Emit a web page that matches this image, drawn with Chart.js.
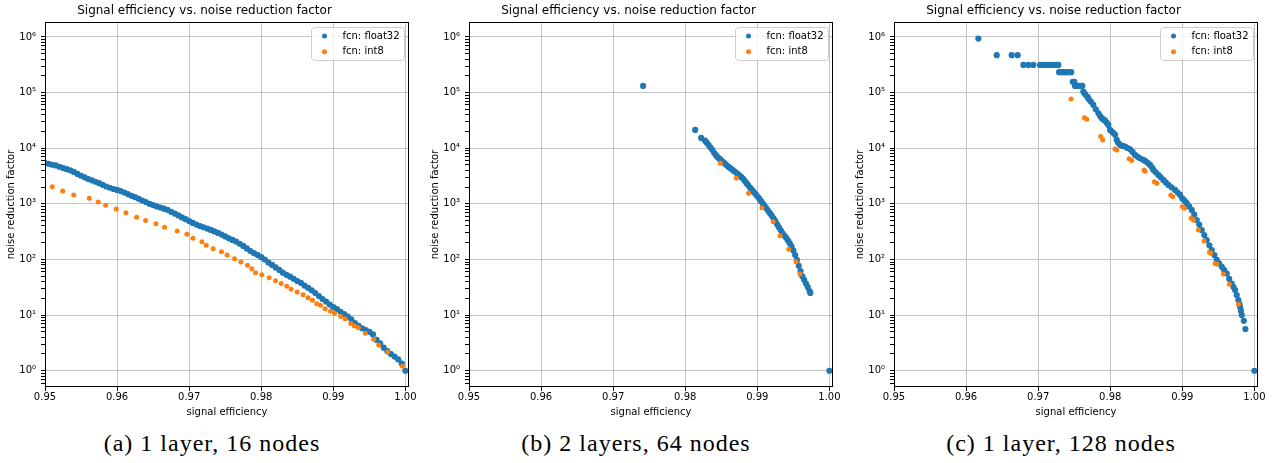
<!DOCTYPE html>
<html>
<head>
<meta charset="utf-8">
<script src="https://cdn.jsdelivr.net/npm/chart.js@4.4.1/dist/chart.umd.min.js"></script>
<style>
  body { margin: 0; background: #fff; width: 1280px; height: 463px; position: relative; overflow: hidden; }
  canvas { position: absolute; top: 0; }
  .cap { position: absolute; top: 431px; width: 424px; text-align: center; font-family: 'Liberation Serif', serif;
         font-size: 24px; line-height: 24px; letter-spacing: 1px; color: #000; }
</style>
</head>
<body>
<canvas id="c0" width="424" height="425" style="left:0px"></canvas>
<canvas id="c1" width="424" height="425" style="left:424px"></canvas>
<canvas id="c2" width="424" height="425" style="left:849px"></canvas>
<div class="cap" id="cap0" style="left:0px"></div>
<div class="cap" id="cap1" style="left:424px"></div>
<div class="cap" id="cap2" style="left:849px"></div>
<script>
// labels
var chartTitle = 'Signal efficiency vs. noise reduction factor';
var xTitle = 'signal efficiency';
var yTitle = 'noise reduction factor';
var seriesLabels = ['fcn: float32', 'fcn: int8'];
var captions = ['(a) 1 layer, 16 nodes', '(b) 2 layers, 64 nodes', '(c) 1 layer, 128 nodes'];
var xTicks = [0.95, 0.96, 0.97, 0.98, 0.99, 1.00];
var yMajor = [1, 10, 100, 1000, 10000, 100000, 1000000];
var yLabels = ['10\u2070', '10\u00b9', '10\u00b2', '10\u00b3', '10\u2074', '10\u2075', '10\u2076'];

// (a) 1 layer, 16 nodes  [signal efficiency, noise reduction factor]
var f32_a = [[0.9500,5400],[0.9505,5250],[0.9510,5050],[0.9515,4900],[0.9520,4650],[0.9525,4400],[0.9530,4200],[0.9535,4000],
  [0.9540,3750],[0.9545,3450],[0.9550,3200],[0.9555,3000],[0.9560,2800],[0.9565,2650],[0.9570,2500],[0.9575,2350],
  [0.9580,2200],[0.9585,2050],[0.9590,1950],[0.9595,1850],[0.9600,1780],[0.9605,1700],[0.9610,1600],[0.9615,1500],
  [0.9620,1400],[0.9625,1320],[0.9630,1230],[0.9635,1150],[0.9640,1080],[0.9645,1000],[0.9650,950],[0.9655,900],
  [0.9660,860],[0.9665,820],[0.9670,780],[0.9675,720],[0.9680,670],[0.9685,620],[0.9690,570],[0.9695,530],
  [0.9700,490],[0.9705,455],[0.9710,425],[0.9715,400],[0.9720,380],[0.9725,360],[0.9730,340],[0.9735,320],
  [0.9740,300],[0.9745,280],[0.9750,260],[0.9755,240],[0.9760,225],[0.9765,210],[0.9770,192],[0.9775,175],
  [0.9780,158],[0.9785,142],[0.9790,130],[0.9795,120],[0.9800,110],[0.9805,100],[0.9810,88],[0.9815,80],
  [0.9820,72],[0.9825,65],[0.9830,58],[0.9835,53],[0.9840,49],[0.9845,45],[0.9850,41],[0.9855,38],
  [0.9860,34],[0.9865,31],[0.9870,28],[0.9875,25],[0.9880,22],[0.9885,19.5],[0.9890,17.5],[0.9895,15.5],
  [0.9900,14],[0.9905,12.8],[0.9910,11.5],[0.9915,10.4],[0.9920,9.4],[0.9925,8.4],[0.9930,7.2],[0.9935,6.4],
  [0.9940,5.8],[0.9945,5.4],[0.9950,5.0],[0.9955,4.5],[0.9960,3.6],[0.9965,3.1],[0.9970,2.6],[0.9975,2.25],
  [0.9980,2.0],[0.9985,1.8],[0.9990,1.6],[0.9995,1.35],[1.0000,1.0]];
var i8_a = [[0.95101,2040],[0.95245,1706],[0.95398,1445],[0.95614,1260],[0.95739,1082],[0.95841,944],[0.95988,810],
  [0.96123,695],[0.96271,574],[0.96396,500],[0.96539,437],[0.96659,380],[0.96834,325],[0.96968,284],[0.97052,240],
  [0.97176,209],[0.97236,180],[0.97333,156],[0.97449,138],[0.97527,120],[0.97630,103],[0.97717,90],[0.97810,79],
  [0.97869,68],[0.97921,58],[0.98008,53],[0.98110,47],[0.98198,41.6],[0.98276,37],[0.98355,33],[0.98415,29.1],
  [0.98498,26],[0.98581,23.3],[0.98650,20.6],[0.98711,18.5],[0.98770,16],[0.98822,15],[0.98886,13],[0.98960,11.7],
  [0.99016,10.8],[0.99103,9.4],[0.99163,8.6],[0.99242,7.1],[0.99293,6.4],[0.99348,5.9],[0.99445,4.7],[0.99560,3.7],
  [0.99630,2.9],[0.99754,2.17],[0.99958,1.2]];

// (b) 2 layers, 64 nodes
var f32_b = [[0.97415,132000],[0.98138,21300],[0.98221,15300],
  [0.98275,13700],[0.98300,12500],[0.98325,11400],[0.98350,10300],[0.98375,9400],[0.98400,8300],[0.98425,7500],
  [0.98450,6900],[0.98475,6500],[0.98500,6050],[0.98525,5650],[0.98550,5300],[0.98575,4950],[0.98600,4650],
  [0.98625,4400],[0.98650,4150],[0.98675,3900],[0.98700,3700],[0.98725,3450],[0.98750,3250],[0.98775,3050],
  [0.98800,2850],[0.98825,2600],[0.98850,2350],[0.98875,2150],[0.98900,1950],[0.98925,1780],[0.98950,1640],
  [0.98975,1500],[0.99000,1370],[0.99025,1250],[0.99050,1130],[0.99075,1020],[0.99100,920],[0.99125,830],
  [0.99150,750],[0.99175,680],[0.99200,615],[0.99225,550],[0.99250,490],[0.99275,430],[0.99300,380],[0.99325,335],
  [0.99350,295],[0.99375,270],[0.99400,245],[0.99425,220],[0.99450,195],[0.99475,170],[0.99500,145],[0.99525,120],
  [0.99550,97],[0.99575,77],[0.99600,62],[0.99625,50],[0.99650,43],[0.99675,37],[0.99700,32],[0.99725,27],
  [0.99735,25],[1.0,1.0]];
var i8_b = [[0.98488,5370],[0.98709,2920],[0.98879,1550],[0.99064,855],[0.99220,478],[0.99316,268],[0.99436,152],
  [0.99537,91],[0.99592,55]];

// (c) 1 layer, 128 nodes
var f32_c = [[0.96170,935000],
  [0.96425,471000],[0.96633,471000],[0.96716,471000],
  [0.96795,315000],[0.96864,315000],[0.96933,315000],[0.97026,315000],[0.97072,315000],[0.97109,315000],
  [0.97151,315000],[0.97188,315000],[0.97220,315000],[0.97258,315000],[0.97280,315000],
  [0.97290,233000],[0.97318,233000],[0.97346,233000],[0.97374,233000],[0.97402,233000],[0.97430,233000],[0.97458,233000],
  [0.97480,156000],[0.97502,156000],
  [0.97512,132000],[0.97540,132000],[0.97567,132000],[0.97595,132000],[0.97613,132000],
  [0.97627,104000],[0.97651,93600],[0.97683,84700],[0.97700,77000],[0.97730,68900],[0.97766,60100],[0.97799,50200],
  [0.97836,42500],[0.97860,38000],[0.97882,34700],[0.97905,33000],[0.97928,31400],[0.97950,28800],[0.97974,26300],
  [0.97998,21300],[0.98021,19900],[0.98045,18800],[0.98067,17400],[0.98090,14100],[0.98110,12500],[0.98136,11500],
  [0.98170,11000],[0.98206,10700],[0.98240,10100],[0.98275,9600],[0.98310,8600],[0.98344,7580],[0.98380,7000],
  [0.98414,6610],[0.98450,6250],[0.98483,5910],[0.98520,5450],[0.98553,5010],[0.98580,4500],[0.98599,4070],
  [0.98630,3700],[0.98668,3310],[0.98700,3000],[0.98737,2690],[0.98770,2430],[0.98807,2190],[0.98850,1980],
  [0.98900,1780],[0.98935,1600],[0.98969,1445],[0.99000,1250],[0.99030,1140],[0.99062,1030],[0.99095,900],
  [0.99131,777],[0.99165,640],[0.99200,513],[0.99235,420],[0.99270,339],[0.99305,275],[0.99339,224],[0.99375,180],
  [0.99409,148],[0.99445,120],[0.99478,98],[0.99510,85],[0.99548,74],[0.99580,65],[0.99617,56],[0.99650,45],
  [0.99686,37],[0.99710,32],[0.99732,28.3],[0.99755,23],[0.99778,18.7],[0.99790,16],[0.99801,14.1],[0.99813,12],
  [0.99825,10],[0.99853,7.9],[0.99875,5.6],[1.0,1.0]];
var i8_c = [[0.97456,77000],[0.97641,35500],[0.97674,33300],[0.97868,16200],[0.97896,14100],[0.98067,9700],
  [0.98090,9330],[0.98261,6480],[0.98298,6050],[0.98469,4070],[0.98483,3850],[0.98612,2510],[0.98646,2350],
  [0.98840,1445],[0.98868,1340],[0.99001,890],[0.99029,830],[0.99122,550],[0.99154,510],[0.99223,340],
  [0.99302,214],[0.99376,135],[0.99395,129],[0.99454,85],[0.99478,83],[0.99570,55],[0.99653,36],[0.99778,15.6]];

// major + minor log ticks
var yTickVals = [];
yMajor.forEach(function (m) {
  for (var k = 1; k < 10; k++) {
    var v = k === 1 ? m : k * m;
    if (v <= 1.86e6) yTickVals.push(v);
  }
});
[0.6, 0.7, 0.8, 0.9].forEach(function (v) { yTickVals.unshift(v); });

var font = 'DejaVu Sans';

var frame = {
  id: 'frame',
  afterDatasetsDraw: function (chart) {
    var a = chart.chartArea, ctx = chart.ctx;
    ctx.save();
    ctx.strokeStyle = '#000';
    ctx.lineWidth = 1;
    ctx.strokeRect(Math.round(a.left) + 0.5, Math.round(a.top) + 0.5,
      Math.round(a.right - a.left) - 1, Math.round(a.bottom - a.top) - 1);
    ctx.restore();
  }
};

var boxLegend = {
  id: 'boxLegend',
  afterDraw: function (chart) {
    var a = chart.chartArea, ctx = chart.ctx;
    var w = 93, h = 33, x = Math.round(a.right - 5 - w), y = Math.round(a.top + 5);
    ctx.save();
    ctx.beginPath();
    ctx.roundRect(x + 0.5, y + 0.5, w, h, 3);
    ctx.fillStyle = 'rgba(255,255,255,0.8)';
    ctx.fill();
    ctx.strokeStyle = '#cccccc';
    ctx.lineWidth = 1;
    ctx.stroke();
    chart.data.datasets.forEach(function (ds, i) {
      var ry = y + 9 + i * 15.7;
      ctx.fillStyle = ds.backgroundColor;
      ctx.beginPath();
      ctx.arc(x + 13.5, ry, 2.5, 0, 2 * Math.PI);
      ctx.fill();
      ctx.fillStyle = '#000';
      ctx.font = '10px "' + font + '"';
      ctx.textBaseline = 'middle';
      ctx.fillText(ds.label, x + 31.5, ry);
    });
    ctx.restore();
  }
};

function pts(arr) {
  return arr.map(function (p) { return { x: p[0], y: p[1] }; });
}

function makeChart(id, f32, i8) {
  return new Chart(document.getElementById(id), {
    type: 'scatter',
    data: {
      datasets: [
        { label: seriesLabels[0], data: pts(f32), backgroundColor: '#1f77b4', borderWidth: 0,
          pointRadius: 3.1, order: 2, clip: 0 },
        { label: seriesLabels[1], data: pts(i8), backgroundColor: '#ff7f0e', borderWidth: 0,
          pointRadius: 2.5, order: 1, clip: 0 }
      ]
    },
    options: {
      responsive: false,
      animation: false,
      events: [],
      layout: { padding: { left: 0, right: 15, top: 0, bottom: 0 } },
      plugins: {
        legend: { display: false },
        tooltip: { enabled: false },
        title: {
          display: true, text: chartTitle, color: '#000',
          font: { family: font, size: 12, weight: 'normal', lineHeight: 1.2 },
          padding: { top: 4, bottom: 3.6 }
        }
      },
      scales: {
        x: {
          type: 'linear', bounds: 'data', min: 0.95, max: 1.0005,
          afterBuildTicks: function (s) { s.ticks = xTicks.map(function (v) { return { value: v }; }); },
          afterFit: function (s) { s.height = 38; },
          ticks: {
            autoSkip: false, maxRotation: 0, color: '#000', padding: 0,
            font: { family: font, size: 10 },
            callback: function (v) { return v.toFixed(2); }
          },
          grid: { color: '#c4c4c4', lineWidth: 1, tickColor: '#000', tickLength: 4 },
          border: { display: false },
          title: {
            display: true, text: xTitle, color: '#000',
            font: { family: font, size: 10, lineHeight: 1.2 }, padding: { top: 7, bottom: 7 }
          }
        },
        y: {
          type: 'logarithmic', bounds: 'data', min: 0.51, max: 1.86e6,
          afterBuildTicks: function (s) { s.ticks = yTickVals.map(function (v) { return { value: v }; }); },
          afterFit: function (s) { s.width = 45; },
          ticks: {
            autoSkip: false, color: '#000', padding: 5,
            font: { family: font, size: 10 },
            callback: function (v) {
              var k = yMajor.indexOf(v);
              return k >= 0 ? yLabels[k] : '';
            }
          },
          grid: {
            color: function (c) { return c.tick && yMajor.indexOf(c.tick.value) >= 0 ? '#c4c4c4' : 'rgba(0,0,0,0)'; },
            lineWidth: 1, tickColor: '#000', tickLength: 4
          },
          border: { display: false },
          title: {
            display: true, text: yTitle, color: '#000',
            font: { family: font, size: 10, lineHeight: 1.2 }, padding: { top: 5, bottom: 5 }
          }
        }
      }
    },
    plugins: [frame, boxLegend]
  });
}

makeChart('c0', f32_a, i8_a);
makeChart('c1', f32_b, i8_b);
makeChart('c2', f32_c, i8_c);
captions.forEach(function (t, i) { document.getElementById('cap' + i).textContent = t; });
</script>
</body>
</html>
